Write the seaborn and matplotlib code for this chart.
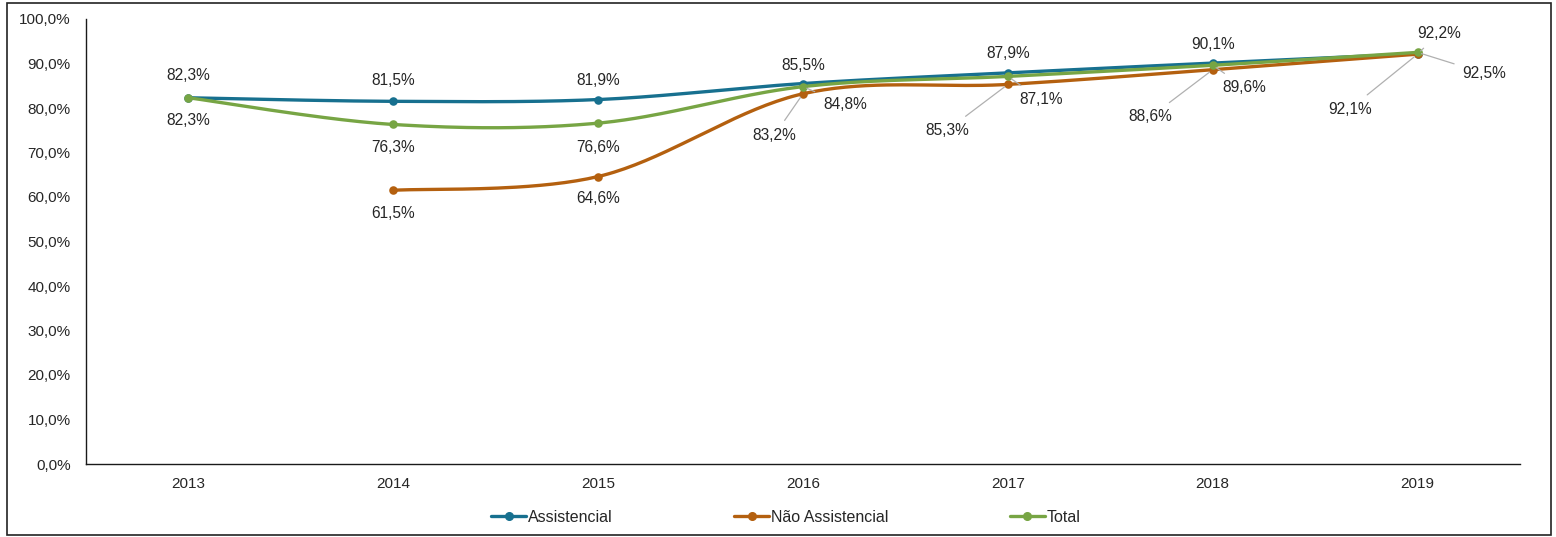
import numpy as np
import pandas as pd
import matplotlib
matplotlib.use("Agg")
import matplotlib.pyplot as plt
from matplotlib.lines import Line2D
from matplotlib.patches import Rectangle
from matplotlib.ticker import FuncFormatter
import seaborn as sns

# ---------------- data ----------------
years = ["2013", "2014", "2015", "2016", "2017", "2018", "2019"]
assistencial = [82.3, 81.5, 81.9, 85.5, 87.9, 90.1, 92.2]
nao_assistencial = [np.nan, 61.5, 64.6, 83.2, 85.3, 88.6, 92.1]
total = [82.3, 76.3, 76.6, 84.8, 87.1, 89.6, 92.5]
series_names = ["Assistencial", "Não Assistencial", "Total"]
y_ticks = [0, 10, 20, 30, 40, 50, 60, 70, 80, 90, 100]

# ---------------- style ----------------
colors = {"Assistencial": "#17708f", "Não Assistencial": "#b4600f", "Total": "#77a544"}
# label offsets in pixels (dx, dy up) and whether to draw a leader line
label_style = {
    "Assistencial": [(0, 22, False), (0, 21, False), (0, 19, False), (0, 18, False),
                     (0, 19, False), (0, 19, False), (22, 20, True)],
    "Total": [(0, -23, False), (0, -23, False), (0, -24, False), (42, -18, True),
              (33, -23, True), (32, -22, True), (67, -21, True)],
    "Não Assistencial": [None, (0, -23, False), (0, -22, False), (-29, -42, True),
                         (-61, -46, True), (-62, -47, True), (-68, -55, True)],
}

sns.set_theme(style="white")
plt.rcParams["font.family"] = ["Liberation Sans", "DejaVu Sans"]

fig = plt.figure(figsize=(15.56, 5.37), dpi=100)
ax = fig.add_axes([86 / 1556, 1 - 464 / 537, (1520 - 86) / 1556, (464 - 19) / 537])

data = {"Assistencial": assistencial, "Não Assistencial": nao_assistencial, "Total": total}


def smooth(xs, ys, n=40):
    """Bezier smoothing similar to spreadsheet smoothed lines."""
    xs = np.asarray(xs, float)
    ys = np.asarray(ys, float)
    out_x, out_y = [], []
    m = len(xs)
    for i in range(m - 1):
        p0 = np.array([xs[i], ys[i]])
        p3 = np.array([xs[i + 1], ys[i + 1]])
        prev = np.array([xs[i - 1], ys[i - 1]]) if i > 0 else p0
        nxt = np.array([xs[i + 2], ys[i + 2]]) if i + 2 < m else p3
        p1 = p0 + (p3 - prev) / 6.0
        p2 = p3 - (nxt - p0) / 6.0
        t = np.linspace(0, 1, n)[:, None]
        pts = (1 - t) ** 3 * p0 + 3 * (1 - t) ** 2 * t * p1 + 3 * (1 - t) * t ** 2 * p2 + t ** 3 * p3
        if i > 0:
            pts = pts[1:]
        out_x.extend(pts[:, 0])
        out_y.extend(pts[:, 1])
    return np.array(out_x), np.array(out_y)


x_idx = np.arange(len(years))
for k, name in enumerate(series_names):
    vals = np.array(data[name], float)
    mask = ~np.isnan(vals)
    sx, sy = smooth(x_idx[mask], vals[mask])
    df_line = pd.DataFrame({"x": sx, "y": sy})
    sns.lineplot(data=df_line, x="x", y="y", sort=False, ax=ax, color=colors[name],
                 linewidth=2.4, zorder=3 + k * 0.1)
    df_pts = pd.DataFrame({"x": x_idx[mask], "y": vals[mask]})
    sns.scatterplot(data=df_pts, x="x", y="y", ax=ax, color=colors[name], s=38,
                    edgecolor=colors[name], linewidth=0, zorder=3.05 + k * 0.1)

px2pt = 72 / 100
for name in series_names:
    vals = data[name]
    for i, v in enumerate(vals):
        st = label_style[name][i]
        if st is None or np.isnan(v):
            continue
        dx, dy, leader = st
        txt = f"{v:.1f}%".replace(".", ",")
        kw = {}
        if leader:
            kw["arrowprops"] = dict(arrowstyle="-", color="#b0b0b0", lw=0.9,
                                    shrinkA=4, shrinkB=3)
        ax.annotate(txt, xy=(i, v), xytext=(dx * px2pt, dy * px2pt),
                    textcoords="offset points", ha="center", va="center",
                    fontsize=11.2, color="#262626", zorder=5, **kw)

ax.set_xlim(-0.5, len(years) - 0.5)
ax.set_ylim(0, 100)
ax.set_xticks(x_idx)
ax.set_xticklabels(years)
ax.set_yticks(y_ticks)
ax.yaxis.set_major_formatter(FuncFormatter(lambda v, p: f"{v:.1f}%".replace(".", ",")))
ax.tick_params(axis="both", length=0, labelsize=11, colors="#262626")
ax.tick_params(axis="x", pad=9)
ax.tick_params(axis="y", pad=11)
ax.set_xlabel("")
ax.set_ylabel("")
for s in ["top", "right"]:
    ax.spines[s].set_visible(False)
for s in ["left", "bottom"]:
    ax.spines[s].set_color("#1a1a1a")
    ax.spines[s].set_linewidth(1.0)
ax.grid(False)

handles = [Line2D([0], [0], color=colors[n], lw=2.4, marker="o", markersize=5.5)
           for n in series_names]
fig.legend(handles, series_names, loc="center", bbox_to_anchor=(0.505, 0.037), ncol=3,
           frameon=False, fontsize=11.5, handlelength=2.2, handletextpad=0.1,
           columnspacing=7.6, labelcolor="#262626")

fig.patches.append(Rectangle((7 / 1556, 2 / 537), 1 - 12 / 1556, 1 - 5 / 537,
                             transform=fig.transFigure, fill=False, edgecolor="#222222",
                             linewidth=1.2))

fig.savefig("out.png", dpi=100)
